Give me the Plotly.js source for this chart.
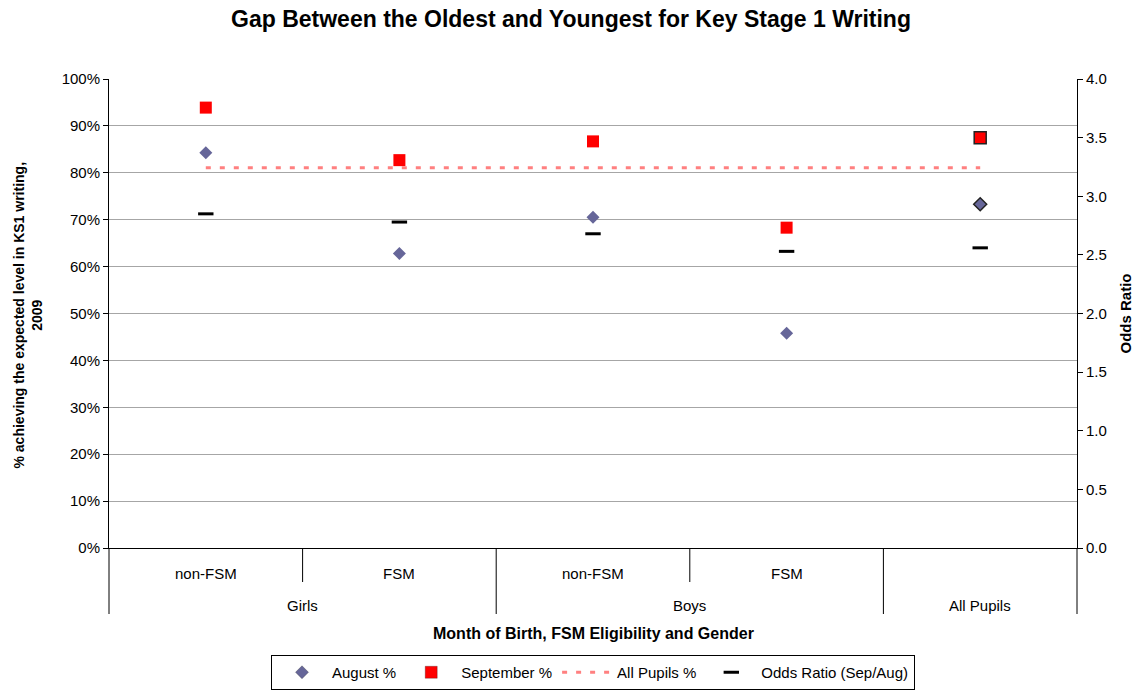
<!DOCTYPE html>
<html><head><meta charset="utf-8">
<script src="https://cdn.plot.ly/plotly-3.0.1.min.js"></script>
<style>html,body{margin:0;padding:0;background:#fff}#chart{width:1142px;height:690px}</style>
</head><body><div id="chart"></div>
<script>
// ---- data ----
const groups = ["Girls", "Boys", "All Pupils"];
const groupSpans = [2, 2, 1];
const subLabels = ["non-FSM", "FSM", "non-FSM", "FSM", ""];
const categories = ["Girls non-FSM", "Girls FSM", "Boys non-FSM", "Boys FSM", "All Pupils"];
const augustPct = [84.3, 62.8, 70.5, 45.8, 73.3];
const septemberPct = [93.9, 82.7, 86.7, 68.3, 87.5];
const allPupilsPct = [81.1, 81.1, 81.1, 81.1, 81.1];
const oddsRatio = [2.85, 2.78, 2.68, 2.53, 2.56];
const leftTicks = [0, 10, 20, 30, 40, 50, 60, 70, 80, 90, 100];
const leftTickText = ["0%", "10%", "20%", "30%", "40%", "50%", "60%", "70%", "80%", "90%", "100%"];
const rightTicks = [0, 0.5, 1, 1.5, 2, 2.5, 3, 3.5, 4];
const rightTickText = ["0.0", "0.5", "1.0", "1.5", "2.0", "2.5", "3.0", "3.5", "4.0"];

const FONT = "Liberation Sans, Arial, sans-serif";
const n = categories.length;
const plotH = 690 - 79 - 142;

const lastBorder = categories.map((c, i) => i === n - 1 ? 1.5 : 0);

const traces = [
  {
    name: "August %", x: categories, y: augustPct, type: "scatter", mode: "markers",
    marker: {symbol: "diamond", size: 10, color: "#666699", line: {color: "#222", width: lastBorder}}
  },
  {
    name: "September %", x: categories, y: septemberPct, type: "scatter", mode: "markers",
    marker: {symbol: "square", size: 12, color: "#FF0000", line: {color: "#222", width: lastBorder}}
  },
  {
    name: "All Pupils %", x: categories, y: allPupilsPct, type: "scatter", mode: "lines",
    line: {color: "#FF8080", width: 3, dash: "5px,9px"}
  },
  {
    name: "Odds Ratio (Sep/Aug)", x: categories, y: oddsRatio, type: "scatter", mode: "markers",
    yaxis: "y2",
    marker: {symbol: "line-ew", size: 11, color: "#000", line: {color: "#000", width: 3}}
  }
];

// dividers
const shapes = [];
let cum = 0;
const outerB = [0];
groupSpans.forEach(s => { cum += s; outerB.push(cum); });
for (let k = 0; k <= n; k++) {
  const isOuter = outerB.includes(k);
  shapes.push({
    type: "line", xref: "paper", yref: "paper",
    x0: k / n, x1: k / n, y0: 0, y1: -(isOuter ? 66 : 34) / plotH,
    line: {color: "#000", width: 1}
  });
}

const annotations = [];
subLabels.forEach((t, i) => {
  if (!t) return;
  annotations.push({text: t, xref: "paper", yref: "paper", x: (i + 0.5) / n, y: 0,
    yshift: -25, yanchor: "middle", xanchor: "center", showarrow: false,
    font: {family: FONT, size: 15, color: "#000"}});
});
let start = 0;
groups.forEach((g, j) => {
  const mid = start + groupSpans[j] / 2;
  annotations.push({text: g, xref: "paper", yref: "paper", x: mid / n, y: 0,
    yshift: -57, yanchor: "middle", xanchor: "center", showarrow: false,
    font: {family: FONT, size: 15, color: "#000"}});
  start += groupSpans[j];
});
annotations.push({text: "<b>Month of Birth, FSM Eligibility and Gender</b>", xref: "paper", yref: "paper",
  x: 0.5, y: 0, yshift: -85, yanchor: "middle", showarrow: false,
  font: {family: FONT, size: 16, color: "#000"}});
annotations.push({text: "<b>% achieving the expected level in KS1 writing,<br>2009</b>", xref: "paper", yref: "paper",
  x: 0, xshift: -82, y: 0.5, yshift: -2, xanchor: "center", yanchor: "middle", textangle: -90, showarrow: false,
  font: {family: FONT, size: 14, color: "#000"}});
annotations.push({text: "<b>Odds Ratio</b>", xref: "paper", yref: "paper",
  x: 1, xshift: 48, y: 0.5, xanchor: "center", yanchor: "middle", textangle: -90, showarrow: false,
  font: {family: FONT, size: 15, color: "#000"}});

const layout = {
  width: 1142, height: 690,
  margin: {l: 109, r: 65, t: 79, b: 142, autoexpand: false},
  paper_bgcolor: "#fff", plot_bgcolor: "#fff",
  font: {family: FONT, size: 15, color: "#000"},
  title: {text: "<b>Gap Between the Oldest and Youngest for Key Stage 1 Writing</b>",
    font: {family: FONT, size: 23, color: "#000"}, x: 0.5, xref: "container", xanchor: "center",
    y: 1 - 19 / 690, yref: "container", yanchor: "middle"},
  xaxis: {type: "category", categoryorder: "array", categoryarray: categories,
    range: [-0.5, n - 0.5], showticklabels: false, ticks: "", showgrid: false,
    showline: true, linecolor: "#000", linewidth: 1, zeroline: false, fixedrange: true},
  yaxis: {range: [0, 100], tickmode: "array", tickvals: leftTicks, ticktext: leftTickText,
    showgrid: true, gridcolor: "#A6A6A6",
    gridwidth: 1, showline: true, linecolor: "#000", linewidth: 1, ticks: "outside", ticklen: 5,
    tickcolor: "#000", zeroline: false, tickfont: {family: FONT, size: 15, color: "#000"}},
  yaxis2: {overlaying: "y", side: "right", range: [0, 4], tickmode: "array", tickvals: rightTicks,
    ticktext: rightTickText,
    showgrid: false, showline: true, linecolor: "#000", linewidth: 1, ticks: "outside", ticklen: 5,
    tickcolor: "#000", zeroline: false, tickfont: {family: FONT, size: 15, color: "#000"}},
  yaxis3: {overlaying: "y", side: "right", anchor: "x", range: [0, 4], tickmode: "array", tickvals: rightTicks,
    showticklabels: false, showgrid: false, showline: false, ticks: "inside", ticklen: 5,
    tickcolor: "#000", zeroline: false},
  showlegend: true,
  legend: {orientation: "h", x: 0.5, xanchor: "center", y: -107 / plotH, yanchor: "top",
    bordercolor: "#000", borderwidth: 1, bgcolor: "#fff", itemwidth: 50,
    font: {family: FONT, size: 15, color: "#000"}},
  shapes: shapes,
  annotations: annotations
};

Plotly.newPlot("chart", traces, layout, {displayModeBar: false, staticPlot: true});
</script>
</body></html>
